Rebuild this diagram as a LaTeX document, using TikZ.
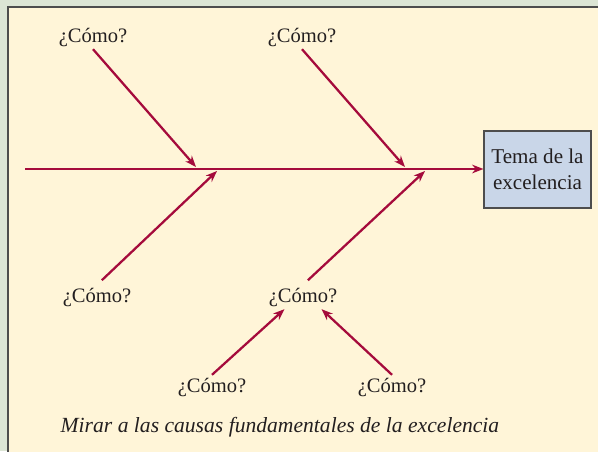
\documentclass[tikz,border=0pt]{standalone}
\usepackage{fontspec}
\setmainfont{Liberation Serif}
\usetikzlibrary{arrows.meta,calc}
\definecolor{fishred}{HTML}{A50B3C}
\definecolor{panelcream}{HTML}{FFF5D8}
\definecolor{outergreen}{HTML}{DCE5D5}
\definecolor{framegray}{HTML}{4D4D4D}
\definecolor{boxblue}{HTML}{C9D6E8}
\definecolor{inkgray}{HTML}{231F20}
\tikzset{
    howlabel/.style={font=\fontsize{15.4}{18}\selectfont, text=inkgray, inner sep=2pt},
    themebox/.style={draw=framegray, fill=boxblue, line width=1.1pt, align=center,
        font=\fontsize{15.8}{19.5}\selectfont, text=inkgray,
        minimum width=80pt, minimum height=58pt},
    fisharrow/.style={-{Stealth[length=8.5pt,width=6.5pt]}, draw=fishred, line width=1.7pt}
}

\begin{document}
\begin{tikzpicture}[x=0.75pt,y=0.75pt]
\clip (0,0) rectangle (598,451);
\fill[outergreen] (0,0) rectangle (598,451);
\draw[framegray, line width=1.5pt, fill=panelcream] (7.5,-10) rectangle (610,443.5);
\node[themebox] (theme) at (537.5,281.5) {Tema de la\\excelencia};
\coordinate (tail) at (25,282);
\coordinate (hitA) at (196,284);
\coordinate (hitB) at (405,284);
\coordinate (hitC) at (217,280);
\coordinate (hitD) at (425,280);
\node[howlabel] (howA) at (93,414) {¿Cómo?};
\node[howlabel] (howB) at (302,414) {¿Cómo?};
\node[howlabel] (howC) at (97,154) {¿Cómo?};
\node[howlabel] (howD) at (303,154) {¿Cómo?};
\node[howlabel] (howE) at ($(howD)+(-91,-90)$) {¿Cómo?};
\node[howlabel] (howF) at ($(howD)+(89,-90)$) {¿Cómo?};
\node[howlabel, font=\fontsize{16.2}{18}\selectfont\itshape] (note) at (280,24)
    {Mirar a las causas fundamentales de la excelencia};
% spine and bones
\draw[fisharrow] (tail) -- (tail -| theme.west);
\draw[fisharrow] (howA.south) -- (hitA);
\draw[fisharrow] (howB.south) -- (hitB);
\draw[fisharrow, shorten <=5pt] (howC.north) -- (hitC);
\draw[fisharrow, shorten <=5pt] (howD.north) -- (hitD);
\draw[fisharrow] (howE.north) -- ($(howD.south)!0.5!(howD.south west)$);
\draw[fisharrow] (howF.north) -- ($(howD.south)!0.5!(howD.south east)$);
\end{tikzpicture}
\end{document}
